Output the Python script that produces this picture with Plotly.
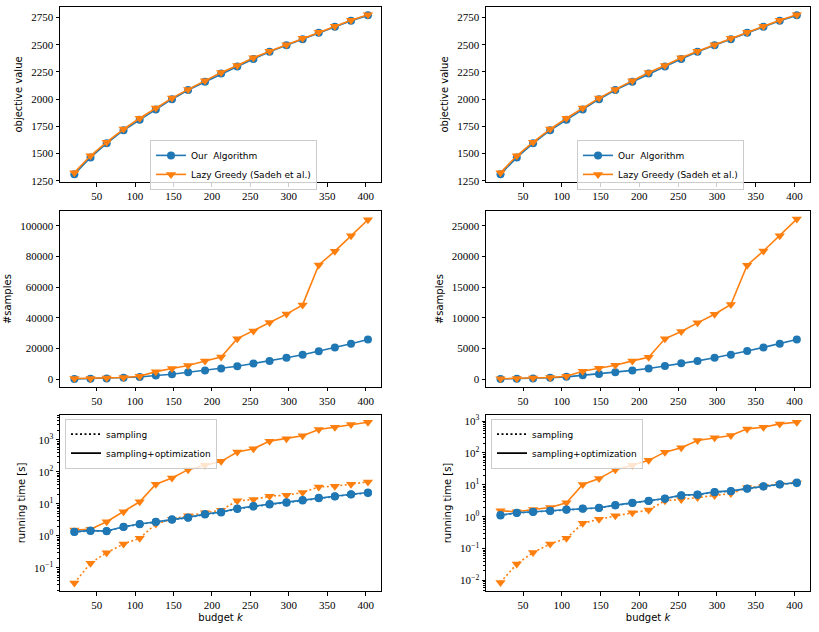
import plotly.graph_objects as go

k = [21, 42, 63, 85, 106, 127, 148, 169, 191, 212, 233, 254, 275, 297, 318, 339, 360, 381, 403]

obj_ours = [1310, 1465, 1595, 1715, 1810, 1905, 2000, 2085, 2160, 2235, 2300, 2370, 2435, 2495, 2550, 2610, 2665, 2720, 2770]
obj_lazy = [1325, 1480, 1605, 1725, 1825, 1920, 2010, 2090, 2170, 2245, 2310, 2380, 2440, 2500, 2560, 2615, 2670, 2725, 2775]

samp_ours_L = [200, 400, 600, 1000, 1500, 2500, 3300, 4600, 5800, 7000, 8500, 10300, 12000, 14000, 16000, 18300, 20800, 23200, 26000]
samp_lazy_L = [500, 600, 800, 1200, 2000, 5000, 7000, 9000, 12000, 14500, 26500, 31500, 37000, 42500, 48500, 74500, 83500, 93500, 104000]
samp_ours_R = [50, 100, 150, 250, 400, 650, 850, 1150, 1450, 1750, 2150, 2600, 3000, 3500, 4000, 4600, 5200, 5800, 6500]
samp_lazy_R = [100, 150, 200, 300, 500, 1300, 1800, 2300, 3000, 3600, 6600, 7800, 9200, 10600, 12200, 18600, 20900, 23400, 26100]

time_ours_total_L = [1.36, 1.47, 1.43, 1.95, 2.36, 2.79, 3.3, 3.8, 4.83, 5.57, 7.25, 8.57, 9.9, 11.4, 13.2, 15.5, 17.5, 20.2, 22.8]
time_ours_samp_L = [1.33, 1.44, 1.40, 1.90, 2.30, 2.72, 3.2, 3.7, 4.7, 5.4, 7.0, 8.3, 9.6, 11.0, 12.8, 15.0, 17.0, 19.6, 22.1]
time_lazy_total_L = [1.54, 1.61, 2.79, 5.7, 11.7, 41.4, 65, 118, 161, 215, 419, 531, 920, 1090, 1350, 2130, 2500, 3040, 3570]
time_lazy_samp_L = [0.034, 0.141, 0.30, 0.56, 0.85, 2.36, 3.3, 4.3, 5.3, 6.4, 12.5, 13.8, 17.5, 18.8, 22.8, 34, 35.8, 41, 49]

time_ours_total_R = [1.13, 1.33, 1.43, 1.54, 1.69, 1.82, 1.91, 2.31, 2.73, 3.16, 3.73, 4.74, 4.97, 6.0, 6.46, 7.65, 9.04, 10.4, 11.8]
time_ours_samp_R = [1.10, 1.30, 1.40, 1.50, 1.65, 1.78, 1.87, 2.26, 2.67, 3.09, 3.65, 4.64, 4.86, 5.87, 6.32, 7.48, 8.85, 10.2, 11.5]
time_lazy_total_R = [1.54, 1.43, 1.69, 1.95, 2.73, 10.2, 15.7, 29.9, 40.9, 58.5, 106, 145, 246, 298, 352, 569, 641, 815, 918]
time_lazy_samp_R = [0.0087, 0.033, 0.075, 0.14, 0.21, 0.62, 0.83, 1.07, 1.33, 1.61, 3.16, 3.47, 4.0, 4.6, 5.3, 8.2, 9.0, 10.4, 11.5]

BLUE = "#1f77b4"
ORANGE = "#ff7f0e"
SERIF = "Liberation Serif, DejaVu Serif, serif"
SANS = "DejaVu Sans, sans-serif"
DOT = "2px,2.5px"
W, H = 819, 632

fig = go.Figure()

xdom = {1: [60 / W, 381 / W], 2: [486 / W, 810 / W]}
ydom = {1: [1 - 182.7 / H, 1 - 5.7 / H], 2: [1 - 389 / H, 1 - 212 / H], 3: [1 - 595 / H, 1 - 417 / H]}

def ax_names(r, c):
    i = (r - 1) * 2 + c
    return ("x" if i == 1 else f"x{i}", "y" if i == 1 else f"y{i}", i)

def line(x, y, color, sym, dash, r, c, name=None, legend=None, show=False, msize=8):
    xa, ya, _ = ax_names(r, c)
    fig.add_trace(go.Scatter(
        x=x, y=y, mode="lines+markers", xaxis=xa, yaxis=ya,
        line=dict(color=color, width=1.6, dash=dash),
        marker=dict(color=color, symbol=sym, size=msize, line=dict(width=0)),
        name=name, showlegend=show, legend=legend))

# row 1
for c, lg in [(1, "legend"), (2, "legend2")]:
    line(k, obj_ours, BLUE, "circle", "solid", 1, c, "Our  Algorithm", lg, True)
    line(k, obj_lazy, ORANGE, "triangle-down", "solid", 1, c, "Lazy Greedy (Sadeh et al.)", lg, True, 9)
# row 2
line(k, samp_ours_L, BLUE, "circle", "solid", 2, 1)
line(k, samp_lazy_L, ORANGE, "triangle-down", "solid", 2, 1, msize=9)
line(k, samp_ours_R, BLUE, "circle", "solid", 2, 2)
line(k, samp_lazy_R, ORANGE, "triangle-down", "solid", 2, 2, msize=9)
# row 3
for c, data, lg in [(1, (time_ours_total_L, time_ours_samp_L, time_lazy_total_L, time_lazy_samp_L), "legend3"),
                    (2, (time_ours_total_R, time_ours_samp_R, time_lazy_total_R, time_lazy_samp_R), "legend4")]:
    ot, os_, lt, ls = data
    line(k, lt, ORANGE, "triangle-down", "solid", 3, c, msize=9)
    line(k, ls, ORANGE, "triangle-down", DOT, 3, c, msize=9)
    line(k, os_, BLUE, "circle", DOT, 3, c)
    line(k, ot, BLUE, "circle", "solid", 3, c)
    xa, ya, _ = ax_names(3, c)
    fig.add_trace(go.Scatter(x=[None], y=[None], mode="lines", xaxis=xa, yaxis=ya,
                             line=dict(color="black", width=1.6, dash=DOT),
                             name="sampling", showlegend=True, legend=lg))
    fig.add_trace(go.Scatter(x=[None], y=[None], mode="lines", xaxis=xa, yaxis=ya,
                             line=dict(color="black", width=1.6, dash="solid"),
                             name="sampling+optimization", showlegend=True, legend=lg))

axis_common = dict(showline=True, linecolor="black", linewidth=1, mirror=True,
                   ticks="outside", ticklen=3.5, tickwidth=1, tickcolor="black",
                   showgrid=False, zeroline=False,
                   tickfont=dict(family=SERIF, size=11, color="black"))

yranges = {
    (1, 1): [1237, 2850], (1, 2): [1237, 2850],
    (2, 1): [-4957, 109480], (2, 2): [-1240, 27370],
    (3, 1): [-1.73, 3.79], (3, 2): [-2.34, 3.20],
}
ytitles = {1: "objective value", 2: "#samples", 3: "running time [s]"}

layout = {}
for r in (1, 2, 3):
    for c in (1, 2):
        xa, ya, i = ax_names(r, c)
        xkey = "xaxis" if i == 1 else f"xaxis{i}"
        ykey = "yaxis" if i == 1 else f"yaxis{i}"
        xd = dict(axis_common, domain=xdom[c], range=[2.3, 420], anchor=ya,
                  tickvals=[50, 100, 150, 200, 250, 300, 350, 400])
        if r == 3:
            xd["title"] = dict(text="budget <i>k</i>", font=dict(family=SANS, size=10, color="black"), standoff=4)
        layout[xkey] = xd
        yd = dict(axis_common, domain=ydom[r], range=yranges[(r, c)], anchor=xa,
                  title=dict(text=ytitles[r], font=dict(family=SANS, size=10, color="black"), standoff=6))
        if r == 1:
            yd["tickvals"] = [1250, 1500, 1750, 2000, 2250, 2500, 2750]
        elif r == 2:
            yd["tickvals"] = ([0, 20000, 40000, 60000, 80000, 100000] if c == 1
                              else [0, 5000, 10000, 15000, 20000, 25000])
            yd["tickformat"] = "d"
        else:
            yd["type"] = "log"
            exps = [-1, 0, 1, 2, 3] if c == 1 else [-2, -1, 0, 1, 2, 3]
            yd["tickvals"] = [10.0 ** e for e in exps]
            yd["ticktext"] = [f"10<sup>{e if e >= 0 else '\u2212' + str(-e)}</sup>" for e in exps]
            minor_vals = [m * 10.0 ** e for e in range(-3, 4) for m in range(2, 10)]
            yd["minor"] = dict(ticks="outside", ticklen=2, tickcolor="black", showgrid=False,
                               tickvals=minor_vals)
        layout[ykey] = yd

leg_common = dict(bgcolor="rgba(255,255,255,0.8)", bordercolor="#cccccc", borderwidth=1,
                  font=dict(family=SANS, size=9, color="black"), xanchor="left", yanchor="top",
                  xref="paper", yref="paper", tracegroupgap=0, itemwidth=30)
fig.update_layout(
    width=W, height=H, margin=dict(l=0, r=0, t=0, b=0),
    plot_bgcolor="white", paper_bgcolor="white",
    legend=dict(leg_common, x=150 / W, y=1 - 140 / H),
    legend2=dict(leg_common, x=577 / W, y=1 - 140 / H),
    legend3=dict(leg_common, x=65 / W, y=1 - 421 / H),
    legend4=dict(leg_common, x=491 / W, y=1 - 421 / H),
    **layout,
)

fig.write_html("out.html")
